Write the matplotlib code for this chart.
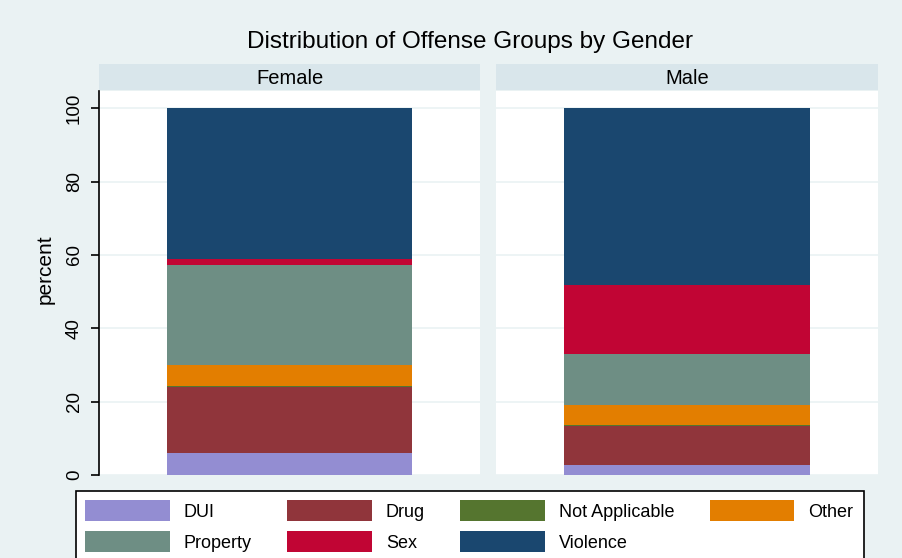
import matplotlib
matplotlib.use("Agg")
import matplotlib.pyplot as plt
from matplotlib.patches import Rectangle

# data (percent of offenses per gender)
groups = ["DUI", "Drug", "Not Applicable", "Other", "Property", "Sex", "Violence"]
genders = ["Female", "Male"]
female_pct = [6.1, 18.0, 0.3, 5.7, 27.1, 1.8, 41.0]
male_pct = [2.7, 10.6, 0.3, 5.4, 14.1, 18.6, 48.3]
yticks = [0, 20, 40, 60, 80, 100]

colors = ["#938DD2", "#90353B", "#55752F", "#E37E00", "#6E8E84", "#C10534", "#1A476F"]
bg = "#EAF2F3"
strip_bg = "#D9E6EB"

plt.rcParams["font.family"] = ["Liberation Sans", "DejaVu Sans"]

W, H = 902, 558
fig = plt.figure(figsize=(W / 100, H / 100), dpi=100)
fig.patch.set_facecolor(bg)


def px_axes(x0, y0, x1, y1):
    # pixel box (top-left origin) -> figure axes
    return fig.add_axes([x0 / W, 1 - y1 / H, (x1 - x0) / W, (y1 - y0) / H])


panels = [(99, 480), (496, 878)]
for i, (gender, vals) in enumerate(zip(genders, [female_pct, male_pct])):
    x0, x1 = panels[i]
    ax = px_axes(x0, 91, x1, 475)
    ax.set_facecolor("white")
    bottom = 0
    for g, v, c in zip(groups, vals, colors):
        ax.bar(0, v, bottom=bottom, width=0.643, color=c, label=g if i == 0 else None,
               zorder=2, linewidth=0)
        bottom += v
    ax.set_xlim(-0.5, 0.5)
    ax.set_ylim(0, 104.7)
    ax.set_xticks([])
    ax.set_yticks(yticks)
    ax.yaxis.grid(True, color=bg, linewidth=1.2, zorder=0)
    ax.set_axisbelow(True)
    for s in ["top", "right", "bottom"]:
        ax.spines[s].set_visible(False)
    if i == 0:
        ax.spines["left"].set_linewidth(1.2)
        ax.tick_params(axis="y", direction="out", length=5.5, width=1.2, pad=6,
                       labelsize=13.5, labelrotation=90)
        for lab in ax.get_yticklabels():
            lab.set_va("center")
        ax.set_ylabel("percent", fontsize=15)
        ax.yaxis.set_label_coords(-44 / (x1 - x0), (475 - 269) / (475 - 91))
    else:
        ax.spines["left"].set_visible(False)
        ax.tick_params(axis="y", length=0, labelleft=False)

    # strip header
    sax = px_axes(x0, 64, x1, 90)
    sax.set_facecolor(strip_bg)
    sax.set_xticks([])
    sax.set_yticks([])
    for s in sax.spines.values():
        s.set_visible(False)
    sax.text(0.5, 0.45, gender, ha="center", va="center", fontsize=14.5,
             transform=sax.transAxes)

    if i == 0:
        handles, labels = ax.get_legend_handles_labels()

fig.text(470 / W, 1 - 48 / H, "Distribution of Offense Groups by Gender",
         ha="center", va="baseline", fontsize=17.5)

# legend box runs past the bottom edge of the image
fig.patches.append(Rectangle((76 / W, -0.05), (864 - 76) / W, 1 - 491 / H + 0.05,
                             transform=fig.transFigure, facecolor="white",
                             edgecolor="black", linewidth=1.2, zorder=1))

# legend reads row by row: reorder for matplotlib's column filling
order = [0, 4, 1, 5, 2, 6, 3]
leg = fig.legend([handles[k] for k in order], [labels[k] for k in order], ncol=4,
                 loc="upper left", bbox_to_anchor=(85 / W, 1 - 500 / H), frameon=False,
                 fontsize=13, handlelength=4.7, handleheight=1.42,
                 handletextpad=0.78, columnspacing=1.94, labelspacing=0.55,
                 borderpad=0, borderaxespad=0)
leg.set_zorder(3)

fig.savefig("out.png", dpi=100, facecolor=bg)
